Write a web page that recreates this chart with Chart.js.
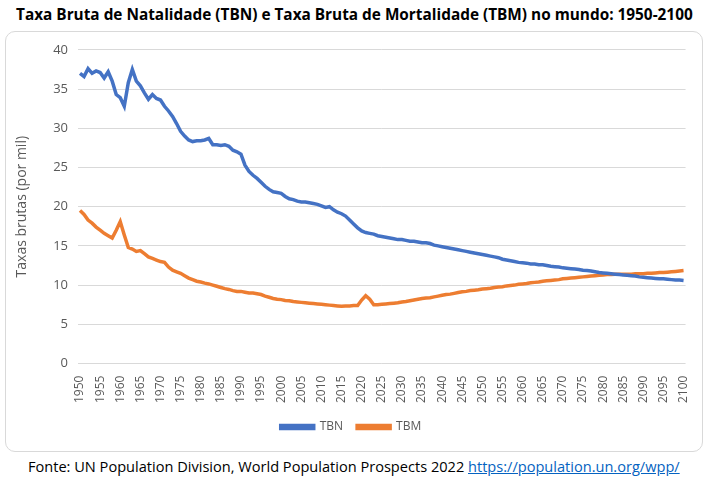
<!DOCTYPE html>
<html>
<head>
<meta charset="utf-8">
<script src="https://cdn.jsdelivr.net/npm/chart.js@4.4.1/dist/chart.umd.min.js"></script>
<style>
  body { margin: 0; background: #fff; font-family: "Open Sans", sans-serif; }
  #title { position: absolute; left: 16px; top: 4px; font-weight: bold; color: #000; white-space: nowrap; font-size: 14px; }
  #box { position: absolute; left: 5px; top: 31px; width: 696px; height: 419px; border: 1px solid #d9d9d9; border-radius: 10px; }
  #box canvas { position: absolute; left: 0; top: 0; }
  #source { position: absolute; left: 28px; top: 456px; color: #000; white-space: nowrap; font-size: 15px; }
  #source a { color: #0563c1; text-decoration: underline; }
</style>
</head>
<body>
<div id="title">Taxa Bruta de Natalidade (TBN) e Taxa Bruta de Mortalidade (TBM) no mundo: 1950-2100</div>
<div id="box"><canvas id="chart" width="696" height="419"></canvas></div>
<div id="source">Fonte: UN Population Division, World Population Prospects 2022 <a href="https://population.un.org/wpp/">https://population.un.org/wpp/</a></div>
<script>
// years 1950..2100
const years = [];
for (let y = 1950; y <= 2100; y++) years.push(String(y));

// Taxa Bruta de Natalidade (por mil)
const tbn = [
  37.0, 36.6, 37.6, 37.0, 37.3, 37.1, 36.4, 37.2, 36.0, 34.3, // 1950-1959
  33.9, 32.8, 35.8, 37.5, 36.0, 35.4, 34.5, 33.7, 34.3, 33.8, // 1960-1969
  33.6, 32.8, 32.2, 31.5, 30.6, 29.6, 29.0, 28.5, 28.3, 28.4, // 1970-1979
  28.4, 28.5, 28.7, 27.9, 27.9, 27.8, 27.9, 27.7, 27.2, 27.0, // 1980-1989
  26.7, 25.3, 24.5, 24.0, 23.6, 23.1, 22.6, 22.2, 21.9, 21.8, // 1990-1999
  21.7, 21.3, 21.0, 20.9, 20.7, 20.6, 20.6, 20.5, 20.4, 20.3, // 2000-2009
  20.1, 19.9, 20.0, 19.6, 19.3, 19.1, 18.8, 18.3, 17.8, 17.3, // 2010-2019
  16.9, 16.7, 16.6, 16.5, 16.3, 16.2, 16.1, 16.0, 15.9, 15.8, // 2020-2029
  15.8, 15.7, 15.6, 15.6, 15.5, 15.4, 15.4, 15.3, 15.1, 15.0, // 2030-2039
  14.9, 14.8, 14.7, 14.6, 14.5, 14.4, 14.3, 14.2, 14.1, 14.0, // 2040-2049
  13.9, 13.8, 13.7, 13.6, 13.5, 13.3, 13.2, 13.1, 13.0, 12.9, // 2050-2059
  12.85, 12.8, 12.7, 12.7, 12.6, 12.6, 12.5, 12.4, 12.35, 12.3, // 2060-2069
  12.2, 12.15, 12.1, 12.05, 12.0, 11.9, 11.85, 11.8, 11.7, 11.6, // 2070-2079
  11.55, 11.5, 11.45, 11.4, 11.35, 11.3, 11.25, 11.2, 11.15, 11.05, // 2080-2089
  11.0, 10.95, 10.9, 10.85, 10.8, 10.8, 10.75, 10.7, 10.65, 10.65, // 2090-2099
  10.6 // 2100
];

// Taxa Bruta de Mortalidade (por mil)
const tbm = [
  19.5, 19.0, 18.3, 17.9, 17.4, 17.0, 16.6, 16.3, 16.0, 17.0, // 1950-1959
  18.1, 16.4, 14.8, 14.6, 14.3, 14.4, 14.0, 13.6, 13.4, 13.2, // 1960-1969
  13.0, 12.9, 12.3, 11.9, 11.7, 11.5, 11.2, 10.9, 10.7, 10.5, // 1970-1979
  10.4, 10.25, 10.15, 10.0, 9.85, 9.7, 9.55, 9.45, 9.3, 9.2, // 1980-1989
  9.2, 9.1, 9.0, 9.0, 8.9, 8.8, 8.6, 8.45, 8.3, 8.2, // 1990-1999
  8.15, 8.05, 8.0, 7.9, 7.85, 7.8, 7.75, 7.7, 7.65, 7.6, // 2000-2009
  7.55, 7.5, 7.45, 7.4, 7.35, 7.3, 7.35, 7.35, 7.4, 7.4, // 2010-2019
  8.1, 8.65, 8.2, 7.5, 7.5, 7.55, 7.6, 7.65, 7.7, 7.75, // 2020-2029
  7.85, 7.9, 8.0, 8.1, 8.2, 8.3, 8.35, 8.4, 8.5, 8.6, // 2030-2039
  8.7, 8.8, 8.85, 8.95, 9.05, 9.15, 9.2, 9.3, 9.35, 9.4, // 2040-2049
  9.5, 9.55, 9.6, 9.7, 9.75, 9.8, 9.9, 9.95, 10.0, 10.1, // 2050-2059
  10.15, 10.2, 10.3, 10.35, 10.4, 10.5, 10.55, 10.6, 10.65, 10.7, // 2060-2069
  10.8, 10.85, 10.9, 10.95, 11.0, 11.05, 11.1, 11.15, 11.2, 11.25, // 2070-2079
  11.3, 11.35, 11.35, 11.4, 11.4, 11.4, 11.4, 11.4, 11.45, 11.45, // 2080-2089
  11.45, 11.5, 11.5, 11.55, 11.6, 11.6, 11.65, 11.7, 11.75, 11.8, // 2090-2099
  11.85 // 2100
];

const yTicks = [0, 5, 10, 15, 20, 25, 30, 35, 40];

// stretch a line of text to a target width (the reference uses a narrower font)
function fitWidth(id, target) {
  const el = document.getElementById(id);
  const w = el.getBoundingClientRect().width;
  const size = parseFloat(getComputedStyle(el).fontSize);
  el.style.fontSize = (size * target / w) + 'px';
}
fitWidth('title', 677);
fitWidth('source', 652);

const grey = '#595959';

new Chart(document.getElementById('chart'), {
  type: 'line',
  data: {
    labels: years,
    datasets: [
      {
        label: 'TBN',
        data: tbn,
        borderColor: '#4472c4',
        backgroundColor: '#4472c4',
        borderWidth: 3.5,
        pointRadius: 0,
        tension: 0,
      },
      {
        label: 'TBM',
        data: tbm,
        borderColor: '#ed7d31',
        backgroundColor: '#ed7d31',
        borderWidth: 3.5,
        pointRadius: 0,
        tension: 0,
      },
    ],
  },
  options: {
    responsive: false,
    animation: false,
    layout: { padding: { top: 12, left: 8, right: 14, bottom: 8 } },
    plugins: {
      legend: {
        position: 'bottom',
        labels: {
          boxWidth: 33,
          boxHeight: 3,
          padding: 14,
          color: grey,
          font: { family: 'Open Sans', size: 12 },
        },
      },
      tooltip: { enabled: false },
    },
    scales: {
      x: {
        offset: true,
        grid: { display: false },
        border: { display: false },
        ticks: {
          autoSkip: false,
          minRotation: 90,
          maxRotation: 90,
          color: grey,
          font: { family: 'Open Sans', size: 12 },
          padding: 4,
          callback: function (value) {
            const y = years[value];
            return Number(y) % 5 === 0 ? y : '';
          },
        },
      },
      y: {
        min: 0,
        max: 40,
        afterBuildTicks: (scale) => { scale.ticks = yTicks.map(v => ({ value: v })); },
        afterFit: (scale) => { scale.width = 64; },
        grid: { color: '#d9d9d9', drawTicks: false },
        border: { display: false },
        ticks: {
          color: grey,
          font: { family: 'Open Sans', size: 13 },
          padding: 10,
        },
        title: {
          display: true,
          text: 'Taxas brutas (por mil)',
          color: grey,
          font: { family: 'Open Sans', size: 14 },
          padding: { top: 0, bottom: 0 },
        },
      },
    },
  },
});
</script>
</body>
</html>
